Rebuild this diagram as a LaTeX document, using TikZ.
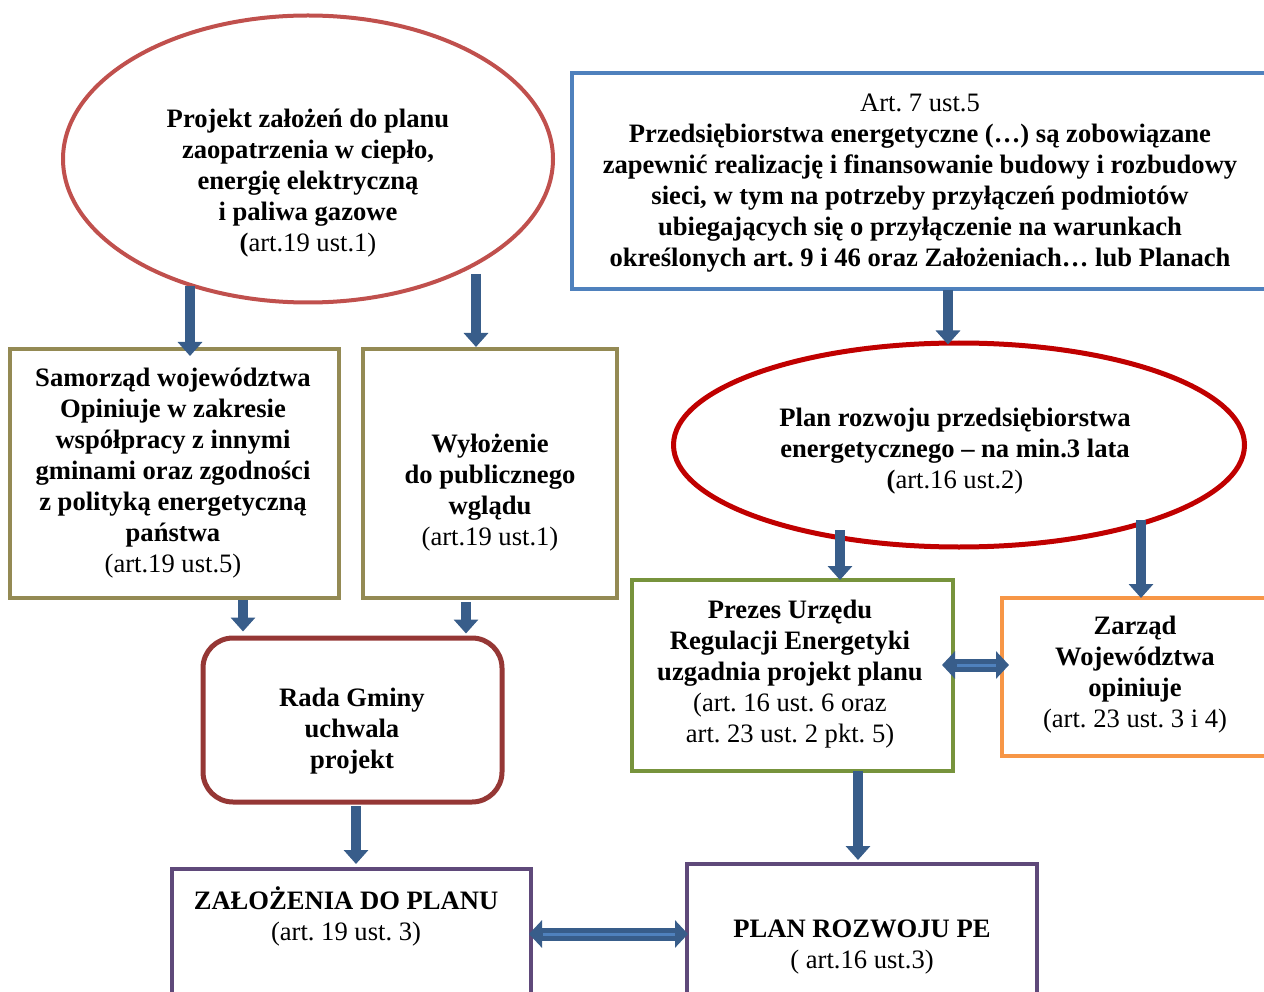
\documentclass[tikz,border=0pt]{standalone}
\usepackage{fontspec}
\setmainfont{Liberation Serif}
\usetikzlibrary{shapes.geometric,arrows.meta}
\definecolor{cEa}{HTML}{C0504D}
\definecolor{cEb}{HTML}{C00000}
\definecolor{cBlue}{HTML}{4F81BD}
\definecolor{cOlive}{HTML}{948A54}
\definecolor{cRada}{HTML}{953735}
\definecolor{cPurple}{HTML}{5F497A}
\definecolor{cGreen}{HTML}{77933C}
\definecolor{cOrange}{HTML}{F79646}
\definecolor{cArr}{HTML}{385D8A}
\frenchspacing
\begin{document}
\begin{tikzpicture}[x=1pt,y=-1pt,
  txt/.style={font=\fontsize{26.6}{31}\selectfont, align=center, inner sep=0pt},
  boxnode/.style={draw=#1, line width=4pt, rectangle, inner sep=0pt, fill=none},
  ellnode/.style={draw=#1, ellipse, inner sep=0pt},
  arr/.style={draw=cArr, line width=10pt, -{Triangle[width=24pt,length=14pt]}},
  dbl/.style={draw=cArr, line width=13pt, {Triangle[width=27pt,length=13pt]}-{Triangle[width=27pt,length=13pt]}},
  dblin/.style={draw=cBlue, line width=3pt}
]
\useasboundingbox (0,0) rectangle (1264,992);
\clip (0,0) rectangle (1264,992);

% shapes
\node[ellnode=cEa, line width=4pt, minimum width=490pt, minimum height=287pt] (e1) at (308,159) {};
\node[boxnode=cBlue, minimum width=696pt, minimum height=216pt] (blue) at (920,181) {};
\node[ellnode=cEb, line width=5pt, minimum width=571pt, minimum height=204pt] (e2) at (959,445) {};
\node[boxnode=cOlive, minimum width=329pt, minimum height=249pt] (samo) at (174.5,473.5) {};
\node[boxnode=cOlive, minimum width=254pt, minimum height=249pt] (wyl) at (490,473.5) {};
\node[draw=cRada, line width=5pt, rectangle, rounded corners=30pt, inner sep=0pt, minimum width=299pt, minimum height=164pt] (rada) at (352.5,720) {};
\node[boxnode=cGreen, minimum width=321pt, minimum height=191pt] (prez) at (792.5,675.5) {};
\node[boxnode=cOrange, minimum width=290pt, minimum height=158pt] (zar) at (1147,677) {};
\node[boxnode=cPurple, minimum width=359pt, minimum height=160pt] (zal) at (351.5,949) {};
\node[boxnode=cPurple, minimum width=350pt, minimum height=165pt] (plan) at (862,946.5) {};

% texts
\node[txt] (t1) at (308,183) {\textbf{Projekt założeń do planu}\\\textbf{zaopatrzenia w ciepło,}\\\textbf{energię elektryczną}\\\textbf{i paliwa gazowe}\\\textbf{(}art.19 ust.1)};
\node[txt] (t2) at (920,183) {Art. 7 ust.5\\\textbf{Przedsiębiorstwa energetyczne (…) są zobowiązane}\\\textbf{zapewnić realizację i finansowanie budowy i rozbudowy}\\\textbf{sieci, w tym na potrzeby przyłączeń podmiotów}\\\textbf{ubiegających się o przyłączenie na warunkach}\\\textbf{określonych art. 9 i 46 oraz Założeniach… lub Planach}};
\node[txt] (t3) at (955,451) {\textbf{Plan rozwoju przedsiębiorstwa}\\\textbf{energetycznego – na min.3 lata}\\\textbf{(}art.16 ust.2)};
\node[txt] (t4) at (173,473) {\textbf{Samorząd województwa}\\\textbf{Opiniuje w zakresie}\\\textbf{współpracy z innymi}\\\textbf{gminami oraz zgodności}\\\textbf{z polityką energetyczną}\\\textbf{państwa}\\(art.19 ust.5)};
\node[txt] (t5) at (490,493) {\textbf{Wyłożenie}\\\textbf{do publicznego}\\\textbf{wglądu}\\(art.19 ust.1)};
\node[txt] (t6) at (352,731) {\textbf{Rada Gminy}\\\textbf{uchwala}\\\textbf{projekt}};
\node[txt] (t7) at (790,674) {\textbf{Prezes Urzędu}\\\textbf{Regulacji Energetyki}\\\textbf{uzgadnia projekt planu}\\(art. 16 ust. 6 oraz\\art. 23 ust. 2 pkt. 5)};
\node[txt] (t8) at (1135,675) {\textbf{Zarząd}\\\textbf{Województwa}\\\textbf{opiniuje}\\(art. 23 ust. 3 i 4)};
\node[txt] (t9) at (346,916) {\textbf{ZAŁOŻENIA DO PLANU}\\(art. 19 ust. 3)};
\node[txt] (t10) at (862,947) {\textbf{PLAN ROZWOJU PE}\\( art.16 ust.3)};

% arrow start points
\coordinate (s1) at (190,286);
\coordinate (s2) at (476,274);
\coordinate (s3) at (948,290);
\coordinate (s4) at (243,600);
\coordinate (s5) at (466,602);
\coordinate (s6) at (840,530);
\coordinate (s7) at (1141,520);
\coordinate (s8) at (356,806);
\coordinate (s9) at (858,771);

\draw[arr] (s1) -- ([yshift=-9pt]s1 |- samo.north);
\draw[arr] (s2) -- (s2 |- wyl.north);
\draw[arr] (s3) -- ([yshift=-4pt]s3 |- e2.north);
\draw[arr] (s4) -- ([yshift=4pt]s4 |- rada.north);
\draw[arr] (s5) -- ([yshift=2pt]s5 |- rada.north);
\draw[arr] (s6) -- ([yshift=-2pt]s6 |- prez.north);
\draw[arr] (s7) -- ([yshift=-2pt]s7 |- zar.north);
\draw[arr] (s8) -- ([yshift=3pt]s8 |- zal.north);
\draw[arr] (s9) -- ([yshift=2pt]s9 |- plan.north);

% double arrows
\draw[dbl, shorten <=-13pt, shorten >=-9pt] (prez.east |- 0,665) -- (zar.west |- 0,665);
\draw[dblin] ([xshift=2pt]prez.east |- 0,665) -- ([xshift=-4pt]zar.west |- 0,665);
\draw[dbl, shorten <=-4pt, shorten >=-3pt] (zal.east |- 0,934) -- (plan.west |- 0,934);
\draw[dblin] ([xshift=10pt]zal.east |- 0,934) -- ([xshift=-10pt]plan.west |- 0,934);
\end{tikzpicture}
\end{document}
